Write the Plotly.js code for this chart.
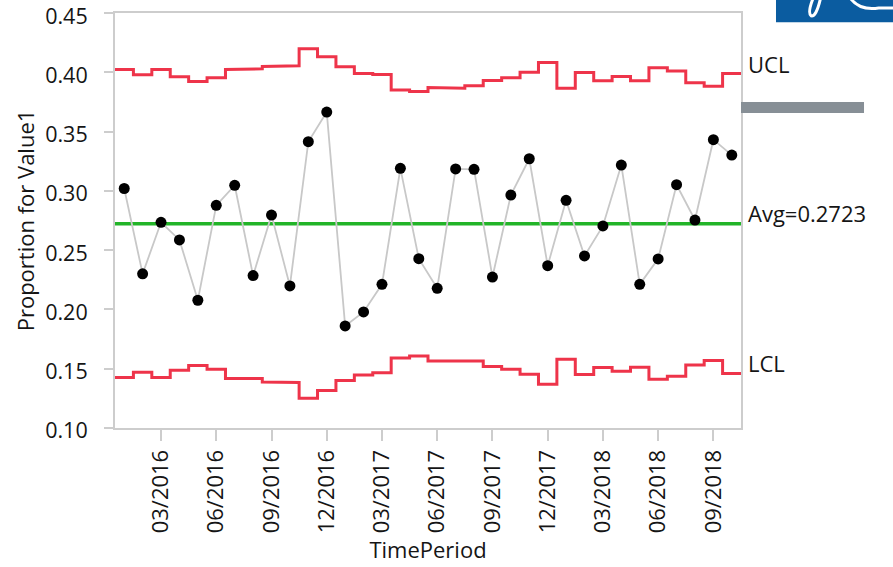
<!DOCTYPE html>
<html>
<head>
<meta charset="utf-8">
<script src="https://cdn.plot.ly/plotly-3.0.1.min.js"></script>
<style>html,body{margin:0;padding:0;background:#fff;}#chart{width:893px;height:567px;}</style>
</head>
<body>
<div id="chart"></div>
<script>
// ---- data ----
const periods = ['01/2016','02/2016','03/2016','04/2016','05/2016','06/2016','07/2016','08/2016','09/2016','10/2016','11/2016','12/2016',
                 '01/2017','02/2017','03/2017','04/2017','05/2017','06/2017','07/2017','08/2017','09/2017','10/2017','11/2017','12/2017',
                 '01/2018','02/2018','03/2018','04/2018','05/2018','06/2018','07/2018','08/2018','09/2018','10/2018'];
const proportion = [0.302,0.230,0.2735,0.2586,0.2077,0.2878,0.3047,0.2285,0.2796,0.2198,0.3415,0.3665,
                    0.186,0.1978,0.2211,0.319,0.2428,0.2178,0.3185,0.3182,0.2273,0.2965,0.3271,0.2369,
                    0.292,0.2451,0.2704,0.3218,0.2211,0.2426,0.3052,0.2754,0.3432,0.3302];
const ucl = [0.4025,0.398,0.4025,0.3963,0.3924,0.3954,0.4025,0.403,0.405,0.4055,0.4199,0.4132,
             0.4047,0.3991,0.3983,0.3851,0.3838,0.3873,0.3867,0.3887,0.3932,0.3954,0.4002,0.4084,
             0.3865,0.3999,0.3929,0.3966,0.3929,0.4039,0.4011,0.3912,0.3882,0.3991];
const lcl = [0.1425,0.147,0.1425,0.1487,0.1526,0.1495,0.1416,0.1416,0.1388,0.1383,0.125,0.1315,
             0.1399,0.1447,0.1466,0.159,0.1607,0.1565,0.157,0.1565,0.1517,0.1495,0.1453,0.1368,
             0.158,0.145,0.1509,0.1478,0.1512,0.1411,0.1436,0.1531,0.1568,0.1458];
const AVG = 0.2723;
const yTicks = [0.10, 0.15, 0.20, 0.25, 0.30, 0.35, 0.40, 0.45];
const tickMonths = ['03','06','09','12'];

// ---- derived ----
const idx = periods.map((_, i) => i);
function steps(vals) {
  const xs = [], ys = [];
  vals.forEach((v, i) => { xs.push(i - 0.5, i + 0.5); ys.push(v, v); });
  return {x: xs, y: ys};
}
const uS = steps(ucl), lS = steps(lcl);
const tickvals = idx.filter(i => tickMonths.includes(periods[i].slice(0, 2)));
const ticktext = tickvals.map(i => periods[i]);
const xr = [-0.5, periods.length - 0.5];

const red = 'rgb(238,52,74)';
const FONT = '"Open Sans", "Noto Sans", "DejaVu Sans", sans-serif';
const TXT = '#151515';

const traces = [
  {x: uS.x, y: uS.y, mode: 'lines', line: {color: red, width: 3}, hoverinfo: 'skip'},
  {x: lS.x, y: lS.y, mode: 'lines', line: {color: red, width: 3}, hoverinfo: 'skip'},
  {x: xr, y: [AVG, AVG], mode: 'lines', line: {color: 'rgb(34,180,40)', width: 3.5}, hoverinfo: 'skip'},
  {x: idx, y: proportion, mode: 'lines+markers', line: {color: 'rgb(200,200,200)', width: 1.8},
   marker: {color: '#000', size: 11}}
];

const layout = {
  width: 893, height: 567,
  margin: {l: 115, r: 152, t: 13, b: 139},
  paper_bgcolor: '#fff', plot_bgcolor: '#fff',
  showlegend: false,
  font: {family: FONT, size: 22, color: TXT},
  xaxis: {
    range: xr, showgrid: false, zeroline: false,
    showline: true, linecolor: 'rgb(205,205,205)', linewidth: 2, mirror: true,
    ticks: 'outside', ticklen: 11, tickwidth: 2, tickcolor: 'rgb(205,205,205)',
    tickvals: tickvals, ticktext: ticktext, tickangle: -90,
    tickfont: {family: FONT, size: 22, color: TXT},
    title: {text: 'TimePeriod', font: {family: FONT, size: 22, color: TXT}, standoff: 10}
  },
  yaxis: {
    range: [0.0999, 0.4501],
    tickmode: 'array', tickvals: yTicks, ticktext: yTicks.map(v => v.toFixed(2)),
    ticklabeloverflow: 'allow',
    ticklabelshift: 3,
    showgrid: false, zeroline: false,
    showline: true, linecolor: 'rgb(205,205,205)', linewidth: 2, mirror: true,
    ticks: 'outside', ticklen: 9, tickwidth: 2, tickcolor: 'rgb(205,205,205)',
    ticklabelstandoff: 12,
    tickfont: {family: FONT, size: 21.5, color: TXT},
    title: {text: 'Proportion for Value1', font: {family: FONT, size: 22, color: TXT}, standoff: 4}
  },
  annotations: [
    {xref: 'paper', yref: 'y', x: 1, y: ucl[ucl.length - 1], text: 'UCL', showarrow: false,
     xanchor: 'left', yanchor: 'middle', xshift: 5, yshift: 9, font: {family: FONT, size: 22, color: TXT}},
    {xref: 'paper', yref: 'y', x: 1, y: AVG, text: 'Avg=0.2723', showarrow: false,
     xanchor: 'left', yanchor: 'middle', xshift: 5, yshift: 11, font: {family: FONT, size: 22, color: TXT}},
    {xref: 'paper', yref: 'y', x: 1, y: lcl[lcl.length - 1], text: 'LCL', showarrow: false,
     xanchor: 'left', yanchor: 'middle', xshift: 5, yshift: 11, font: {family: FONT, size: 22, color: TXT}}
  ],
  shapes: [
    {type: 'rect', xref: 'paper', yref: 'paper', x0: 1.0, x1: 1.1965, y0: 0.759, y1: 0.7855,
     fillcolor: 'rgb(135,143,150)', line: {width: 0}},
    {type: 'rect', xref: 'paper', yref: 'paper', x0: 1.0559, x1: 1.25, y0: 0.978, y1: 1.04,
     fillcolor: 'rgb(11,92,160)', line: {width: 0}},
    {type: 'path', xref: 'paper', yref: 'paper',
     path: 'M 1.1150 1.035 Q 1.1060 1.0 1.1120 0.993 Q 1.1200 0.99 1.1270 1.035',
     line: {color: '#fff', width: 3}},
    {type: 'path', xref: 'paper', yref: 'paper',
     path: 'M 1.1750 1.035 Q 1.1900 1.005 1.2200 1.012 L 1.25 1.012',
     line: {color: '#fff', width: 3}}
  ]
};

Plotly.newPlot('chart', traces, layout, {displayModeBar: false, staticPlot: true});
</script>
</body>
</html>
